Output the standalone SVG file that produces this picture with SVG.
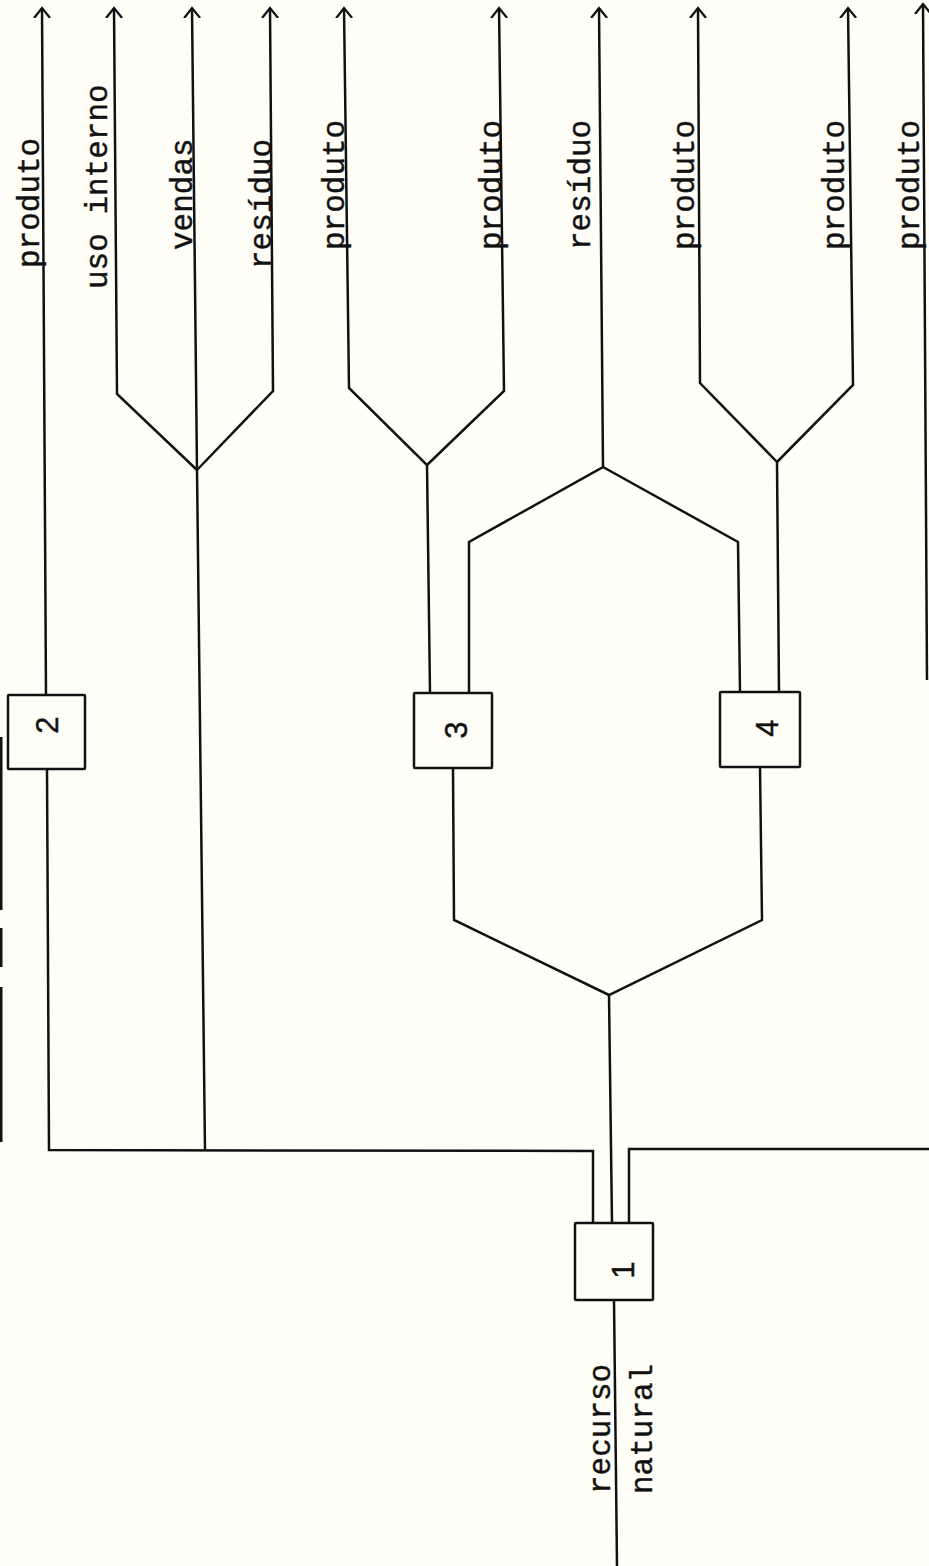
<svg xmlns="http://www.w3.org/2000/svg" width="929" height="1566" viewBox="0 0 929 1566">
<defs>
<style>
.ln{fill:none;stroke:#111;stroke-width:2.5;stroke-linejoin:miter}
.ar{marker-end:url(#arr)}
.box{fill:#fffef7;stroke:#111;stroke-width:2.5}
.lbl{font-family:"Liberation Mono","DejaVu Sans Mono",monospace;font-size:31px;fill:#111;stroke:#111;stroke-width:0.4}
.num{font-family:"Liberation Sans",Arial,sans-serif;font-size:31px;fill:#111;text-anchor:middle;stroke:#111;stroke-width:0.4}
.edge{stroke:#111;stroke-width:3}
</style>
<marker id="arr" viewBox="0 -10 12 20" refX="10" refY="0" markerWidth="12" markerHeight="20" markerUnits="userSpaceOnUse" orient="auto">
<path d="M0,-8 L10,0 L0,8" fill="none" stroke="#111" stroke-width="2.3"/>
</marker>
</defs>
<rect width="929" height="1566" fill="#fffef7"/>
<g id="scan-edge">
<line class="edge" x1="1" y1="737" x2="1" y2="910"/>
<line class="edge" x1="1" y1="928" x2="1" y2="967"/>
<line class="edge" x1="1" y1="987" x2="1" y2="1142"/>
</g>
<g id="connectors">
<path class="ln ar" d="M46,695 L42,8"/>
<path class="ln" d="M593,1223 L593,1151 L49,1150 L47,769"/>
<path class="ln ar" d="M205,1150 L197,470 L192,8"/>
<path class="ln ar" d="M197,470 L117,394 L114,8"/>
<path class="ln ar" d="M197,470 L273,391 L270,8"/>
<path class="ln ar" d="M430,693 L427,465 L349,388 L344,8"/>
<path class="ln ar" d="M427,465 L504,391 L499,8"/>
<path class="ln ar" d="M469,693 L469,542 L603,467 L599,8"/>
<path class="ln" d="M603,467 L738,542 L740,692"/>
<path class="ln ar" d="M779,692 L777,462 L700,383 L698,8"/>
<path class="ln ar" d="M777,462 L853,385 L848,8"/>
<path class="ln ar" d="M927,680 L923,4"/>
<path class="ln" d="M453,768 L454,920 L609,995 L762,920 L760,767"/>
<path class="ln" d="M609,995 L612,1223"/>
<path class="ln" d="M629,1223 L629,1149 L929,1149"/>
<path class="ln" d="M614,1300 L617,1566"/>
</g>
<g id="node-1">
<rect class="box" x="575" y="1223" width="78" height="77" rx="1"/>
<text class="num" transform="translate(634,1270) rotate(-90)">1</text>
</g>
<g id="node-2">
<rect class="box" x="8" y="695" width="77" height="74" rx="1"/>
<text class="num" transform="translate(58,725) rotate(-90)">2</text>
</g>
<g id="node-3">
<rect class="box" x="414" y="693" width="78" height="75" rx="1"/>
<text class="num" transform="translate(467,730) rotate(-90)">3</text>
</g>
<g id="node-4">
<rect class="box" x="720" y="692" width="80" height="75" rx="1"/>
<text class="num" transform="translate(778,728) rotate(-90)">4</text>
</g>
<g id="labels">
<text class="lbl" transform="translate(39,268) rotate(-90)">produto</text>
<text class="lbl" transform="translate(107,289) rotate(-90)">uso interno</text>
<text class="lbl" transform="translate(192,250) rotate(-90)">vendas</text>
<text class="lbl" transform="translate(271,269) rotate(-90)">resíduo</text>
<text class="lbl" transform="translate(344,250) rotate(-90)">produto</text>
<text class="lbl" transform="translate(501,250) rotate(-90)">produto</text>
<text class="lbl" transform="translate(590,250) rotate(-90)">resíduo</text>
<text class="lbl" transform="translate(694,250) rotate(-90)">produto</text>
<text class="lbl" transform="translate(844,250) rotate(-90)">produto</text>
<text class="lbl" transform="translate(919,250) rotate(-90)">produto</text>
<text class="lbl" transform="translate(610,1494) rotate(-90)">recurso</text>
<text class="lbl" transform="translate(652,1494) rotate(-90)">natural</text>
</g>
</svg>
